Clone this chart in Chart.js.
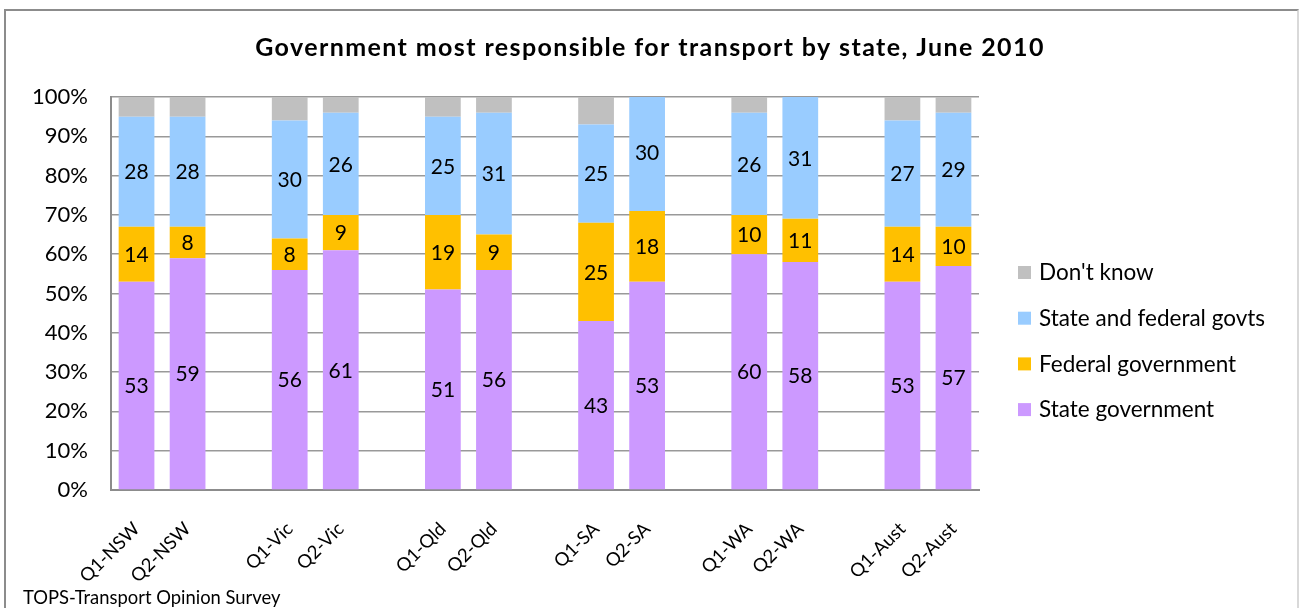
<!DOCTYPE html>
<html>
<head>
<meta charset="utf-8">
<script src="https://cdn.jsdelivr.net/npm/chart.js@4/dist/chart.umd.min.js"></script>
<style>
  html, body { margin: 0; padding: 0; background: #fff; }
  #wrap { position: relative; width: 1299px; height: 608px; }
  #frame { position: absolute; left: 4px; top: 9px; width: 1291px; height: 640px;
    border-left: 2px solid #8c8c8c; border-top: 2px solid #8c8c8c; border-right: 2px solid #d9d9d9; }
  #chart { position: absolute; left: 0; top: 0; }
</style>
</head>
<body>
<div id="wrap">
  <div id="frame"></div>
  <canvas id="chart" width="1299" height="608"></canvas>
</div>
<script>
// Categories (blank slots separate the states)
const categories = ['Q1-NSW', 'Q2-NSW', '', 'Q1-Vic', 'Q2-Vic', '', 'Q1-Qld', 'Q2-Qld', '',
  'Q1-SA', 'Q2-SA', '', 'Q1-WA', 'Q2-WA', '', 'Q1-Aust', 'Q2-Aust'];

// Series values (percent)
const stateGov   = [53, 59, null, 56, 61, null, 51, 56, null, 43, 53, null, 60, 58, null, 53, 57];
const federalGov = [14, 8, null, 8, 9, null, 19, 9, null, 25, 18, null, 10, 11, null, 14, 10];
const bothGovts  = [28, 28, null, 30, 26, null, 25, 31, null, 25, 30, null, 26, 31, null, 27, 29];
const dontKnow   = [5, 5, null, 6, 4, null, 5, 4, null, 7, 0, null, 4, 0, null, 6, 4];

const seriesNames = ['State government', 'Federal government', 'State and federal govts', "Don't know"];
const seriesColors = ['#CC99FF', '#FFC000', '#99CCFF', '#C0C0C0'];

const yTicks = [0, 10, 20, 30, 40, 50, 60, 70, 80, 90, 100];

const titleText = 'Government most responsible for transport by state, June 2010';
const sourceText = 'TOPS-Transport Opinion Survey';

const FONT = 'Lato, "Open Sans", sans-serif';

// value labels inside the first three segments
const valueLabels = {
  id: 'valueLabels',
  afterDatasetsDraw(chart) {
    const ctx = chart.ctx;
    ctx.save();
    ctx.font = '21px ' + FONT;
    ctx.fillStyle = '#000';
    ctx.textAlign = 'center';
    ctx.textBaseline = 'middle';
    for (let d = 0; d < 3; d++) {
      const meta = chart.getDatasetMeta(d);
      meta.data.forEach((bar, i) => {
        const v = chart.data.datasets[d].data[i];
        if (v == null) return;
        const mid = (bar.y + bar.base) / 2;
        ctx.fillText(String(Math.round(v)), bar.x, mid + 1);
      });
    }
    ctx.restore();
  }
};

// title, legend on the right (reverse order) and source note
const decorations = {
  id: 'decorations',
  afterDraw(chart) {
    const ctx = chart.ctx;
    ctx.save();
    ctx.fillStyle = '#000';
    ctx.font = 'bold 25px ' + FONT;
    ctx.textAlign = 'center';
    ctx.textBaseline = 'alphabetic';
    if ('letterSpacing' in ctx) ctx.letterSpacing = '1.4px';
    ctx.fillText(titleText, 650, 56);
    if ('letterSpacing' in ctx) ctx.letterSpacing = '0px';

    ctx.font = '22.5px ' + FONT;
    ctx.textBaseline = 'middle';
    ctx.textAlign = 'left';
    const order = [3, 2, 1, 0];
    order.forEach((d, k) => {
      const y = 273 + k * 45.7;
      ctx.fillStyle = seriesColors[d];
      ctx.fillRect(1018, y - 7, 13, 13);
      ctx.fillStyle = '#000';
      ctx.fillText(seriesNames[d], 1039, y);
    });
    ctx.font = '18.4px ' + FONT;
    ctx.fillText(sourceText, 23, 598);
    ctx.restore();
  }
};

const allSeries = [stateGov, federalGov, bothGovts, dontKnow];

new Chart(document.getElementById('chart'), {
  type: 'bar',
  data: {
    labels: categories,
    datasets: allSeries.map((vals, i) => ({
      label: seriesNames[i],
      data: vals,
      backgroundColor: seriesColors[i],
      borderWidth: 0,
      categoryPercentage: 1,
      barPercentage: 0.7,
    })),
  },
  options: {
    responsive: false,
    animation: false,
    layout: { padding: { left: 0, right: 320, top: 97, bottom: 0 } },
    plugins: {
      legend: { display: false },
      tooltip: { enabled: false },
      title: { display: false },
    },
    scales: {
      x: {
        stacked: true,
        offset: true,
        grid: { display: false, drawTicks: false },
        border: { display: true, color: '#8c8c8c', width: 2 },
        ticks: {
          autoSkip: false, maxRotation: 45, minRotation: 45, padding: 28,
          color: '#000', font: { family: FONT, size: 18.5 },
        },
        afterFit: (s) => { s.height = 118; },
      },
      y: {
        stacked: true,
        min: 0, max: 100,
        afterBuildTicks: (s) => { s.ticks = yTicks.map(v => ({ value: v })); },
        grid: { color: '#999', lineWidth: 1.5, drawTicks: false },
        border: { display: true, color: '#8c8c8c', width: 2 },
        ticks: {
          padding: 23, color: '#000', font: { family: FONT, size: 22 },
          callback: (v) => v + '%',
        },
        afterFit: (s) => { s.width = 111; },
      },
    },
  },
  plugins: [valueLabels, decorations],
});
</script>
</body>
</html>
